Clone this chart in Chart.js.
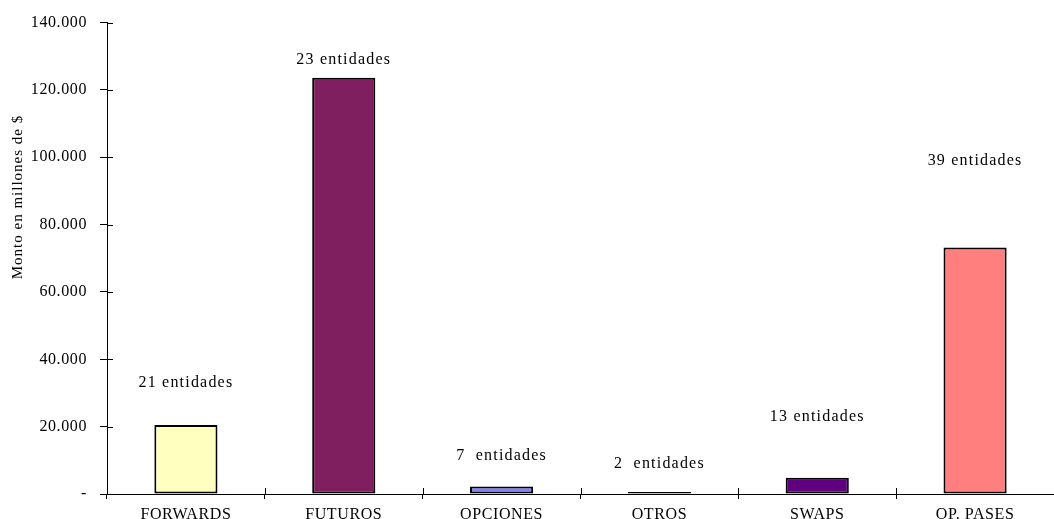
<!DOCTYPE html>
<html>
<head>
<meta charset="utf-8">
<script src="https://cdn.jsdelivr.net/npm/chart.js@4/dist/chart.umd.min.js"></script>
<style>
  html, body { margin: 0; padding: 0; background: #fff; }
  #wrap { width: 1054px; height: 519px; }
</style>
</head>
<body>
<div id="wrap"><canvas id="chart"></canvas></div>
<script>
// categories and values (millones de $)
const categories = ["FORWARDS", "FUTUROS", "OPCIONES", "OTROS", "SWAPS", "OP. PASES"];
const montos = [20500, 123600, 2200, 600, 4800, 73200];
const entidades = ["21 entidades", "23 entidades", "7  entidades", "2  entidades", "13 entidades", "39 entidades"];
// height (in y units) where each "entidades" note sits
const notaAltura = [33000, 129000, 11300, 8900, 22800, 99000];
const barColors = ["#FFFFC0", "#7F1F5F", "#8080FF", "#404040", "#5F007F", "#FF7F7F"];

const serif = "'Liberation Serif', 'Times New Roman', serif";

// axis labels are a bit wider spaced in the original
const spacing = {
  id: "spacing",
  beforeDraw(chart) { chart.ctx.letterSpacing = "0.6px"; },
  beforeDatasetsDraw(chart) { chart.ctx.letterSpacing = "0px"; }
};

// little cross ticks on the inside of both axes + notes + y title
const extras = {
  id: "extras",
  afterDraw(chart) {
    const { ctx, chartArea, scales } = chart;
    const x = scales.x, y = scales.y;
    ctx.save();
    ctx.strokeStyle = "#000";
    ctx.lineWidth = 1;
    // y ticks inside
    y.ticks.forEach((t, i) => {
      const py = Math.round(y.getPixelForTick(i)) + 0.5;
      ctx.beginPath();
      ctx.moveTo(chartArea.left, py);
      ctx.lineTo(chartArea.left + 6, py);
      ctx.stroke();
    });
    // x ticks inside (category boundaries)
    for (let i = 1; i < categories.length; i++) {
      const px = Math.round(x.left + (x.width / categories.length) * i) + 0.5;
      ctx.beginPath();
      ctx.moveTo(px, chartArea.bottom);
      ctx.lineTo(px, chartArea.bottom - 6);
      ctx.stroke();
    }
    // notes above bars
    ctx.fillStyle = "#000";
    ctx.letterSpacing = "1.2px";
    ctx.font = "16px " + serif;
    ctx.textAlign = "center";
    ctx.textBaseline = "middle";
    entidades.forEach((txt, i) => {
      ctx.fillText(txt, x.getPixelForValue(i), y.getPixelForValue(notaAltura[i]));
    });
    // y axis title
    ctx.letterSpacing = "1px";
    ctx.translate(18, chartArea.top + (chartArea.bottom - chartArea.top) * 0.37);
    ctx.rotate(-Math.PI / 2);
    ctx.font = "15px " + serif;
    ctx.fillText("Monto en millones de $", 0, 0);
    ctx.restore();
  }
};

new Chart(document.getElementById("chart"), {
  type: "bar",
  data: {
    labels: categories,
    datasets: [{
      data: montos,
      backgroundColor: barColors,
      borderColor: "#000",
      borderWidth: 2,
      borderSkipped: false,
      barPercentage: 0.4,
      categoryPercentage: 1
    }]
  },
  options: {
    responsive: true,
    maintainAspectRatio: false,
    animation: false,
    layout: { padding: { top: 22, right: 0, bottom: 0, left: 0 } },
    plugins: {
      legend: { display: false },
      tooltip: { enabled: false }
    },
    scales: {
      x: {
        grid: { drawOnChartArea: false, tickLength: 5, color: "#000", offset: true },
        border: { color: "#000" },
        ticks: { color: "#000", padding: 6, font: { family: serif, size: 16 } },
        afterFit: (s) => { s.height = 25; }
      },
      y: {
        min: 0,
        max: 140000,
        grid: { drawOnChartArea: false, tickLength: 7, color: "#000" },
        border: { color: "#000" },
        ticks: {
          stepSize: 20000,
          color: "#000",
          padding: 13,
          font: { family: serif, size: 16 },
          callback: (v) => v === 0 ? "-" : v.toLocaleString("de-DE")
        },
        afterFit: (s) => { s.width = 107; }
      }
    }
  },
  plugins: [spacing, extras]
});
</script>
</body>
</html>
